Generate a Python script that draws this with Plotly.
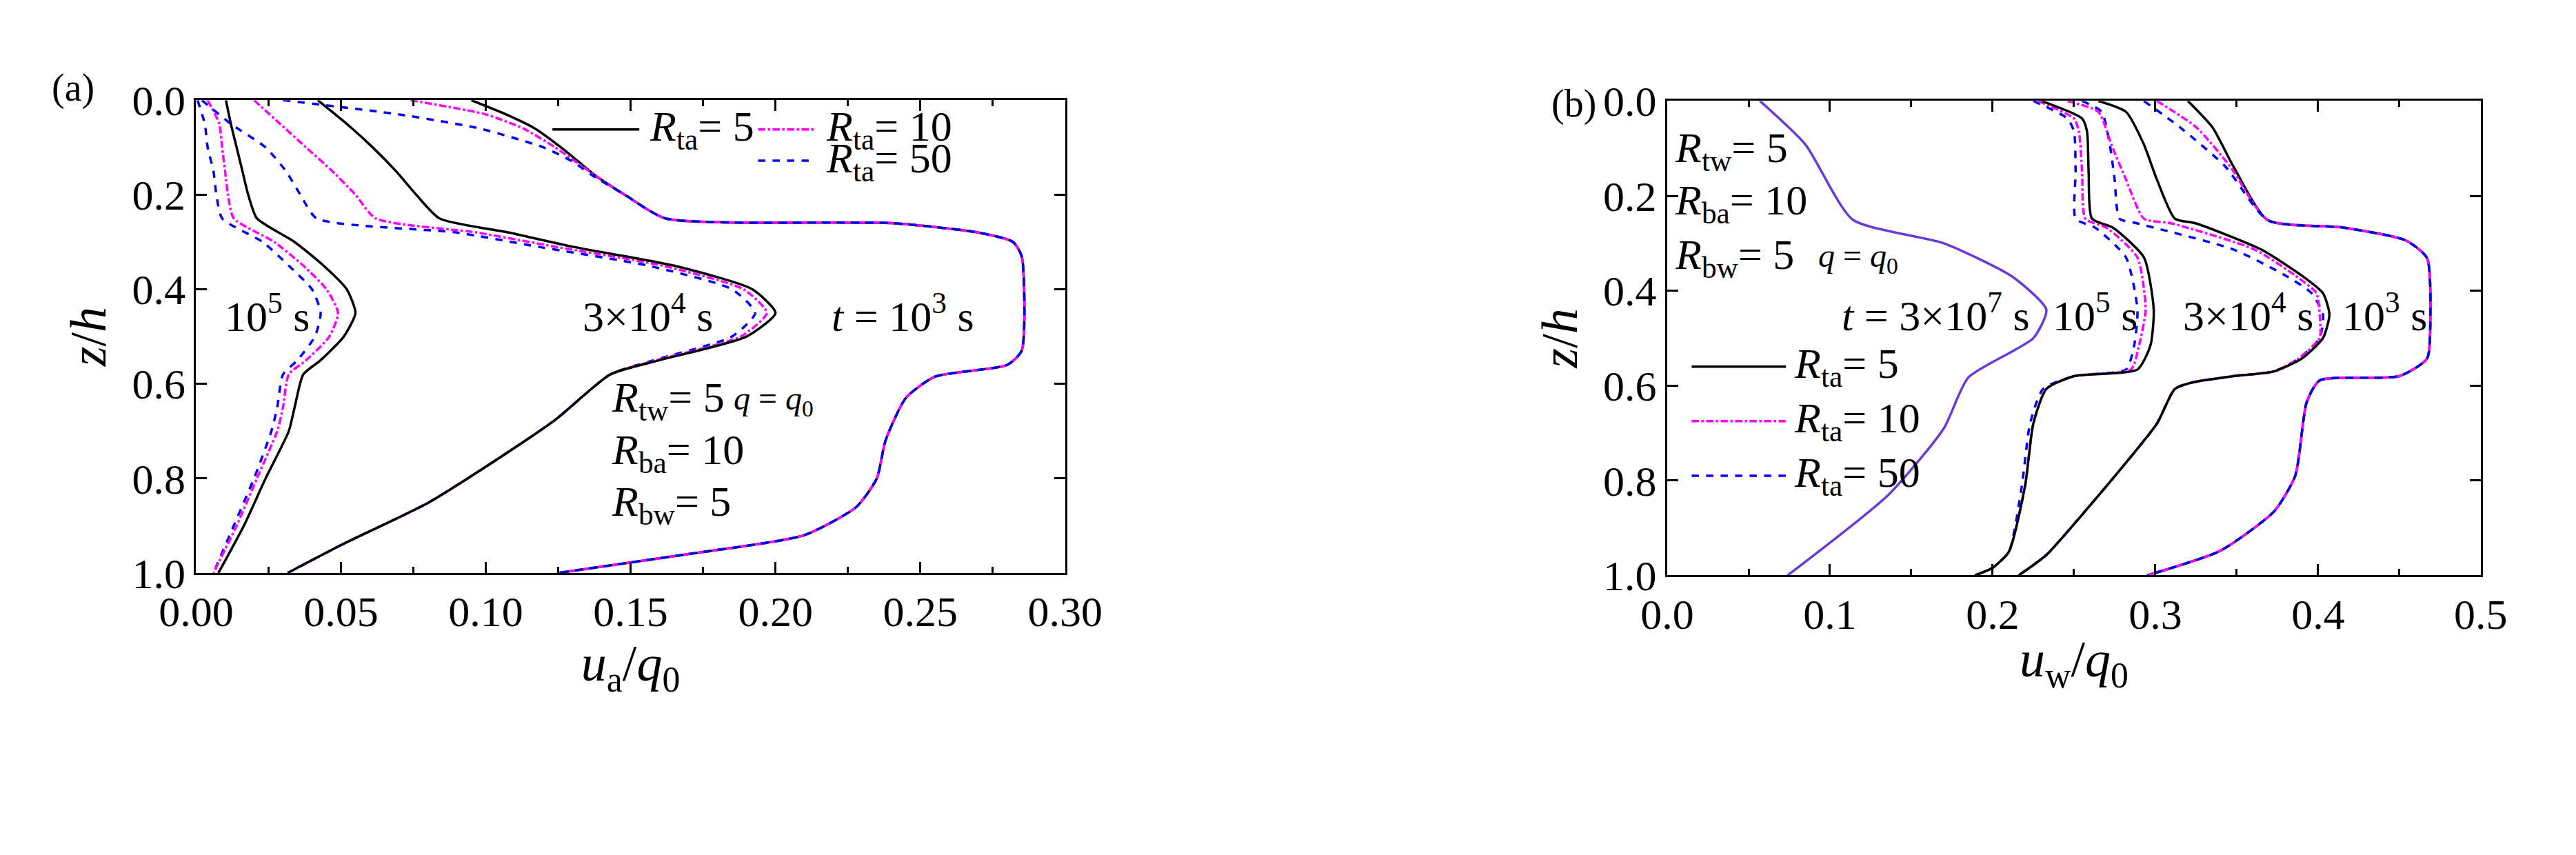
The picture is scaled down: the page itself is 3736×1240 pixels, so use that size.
import plotly.graph_objects as go

# ---------- panel (a): u_a/q0 vs z/h ----------
Z_A = [0.0, 0.05, 0.10, 0.15, 0.20, 0.25, 0.30, 0.35, 0.40, 0.45, 0.50, 0.55, 0.58, 0.65, 0.70, 0.80, 0.90, 1.0]
# t = 1e5 s
A5_R5  = [0.0103, 0.012, 0.014, 0.016, 0.018, 0.021, 0.034, 0.044, 0.052, 0.055, 0.051, 0.043, 0.037, 0.034, 0.032, 0.024, 0.0165, 0.0077]
A5_R10 = [0.004, 0.008, 0.009, 0.010, 0.011, 0.013, 0.027, 0.037, 0.045, 0.049, 0.046, 0.038, 0.032, 0.030, 0.028, 0.021, 0.014, 0.006]
A5_R50 = [0.0005, 0.003, 0.004, 0.006, 0.007, 0.009, 0.023, 0.032, 0.040, 0.043, 0.041, 0.035, 0.030, 0.028, 0.026, 0.020, 0.013, 0.006]
# t = 3e4 s
Z_A34 = [0.0, 0.05, 0.10, 0.15, 0.20, 0.25, 0.28, 0.31, 0.35, 0.40, 0.45, 0.50, 0.55, 0.58, 0.676, 0.773, 0.852, 0.94, 1.0]
A34_R5  = [0.042, 0.052, 0.061, 0.069, 0.076, 0.084, 0.108, 0.130, 0.165, 0.192, 0.200, 0.190, 0.160, 0.143, 0.124, 0.1006, 0.080, 0.0504, 0.0316]
A34_R10 = [0.020, 0.029, 0.038, 0.047, 0.055, 0.062, 0.097, 0.124, 0.161, 0.189, 0.197, 0.188, 0.159, 0.143, 0.124, 0.1006, 0.080, 0.0504, 0.0316]
A34_R50 = [0.002, 0.012, 0.024, 0.031, 0.036, 0.0416, 0.090, 0.118, 0.156, 0.185, 0.193, 0.185, 0.158, 0.143, 0.124, 0.1006, 0.080, 0.0504, 0.0316]
# t = 1e3 s
Z_A3 = [0.0, 0.03, 0.06, 0.10, 0.13, 0.16, 0.20, 0.25, 0.26, 0.28, 0.30, 0.33, 0.53, 0.56, 0.585, 0.63, 0.72, 0.80, 0.86, 0.92, 0.96, 1.0]
A3_R5  = [0.095, 0.107, 0.117, 0.126, 0.132, 0.138, 0.148, 0.162, 0.240, 0.270, 0.282, 0.285, 0.285, 0.280, 0.255, 0.245, 0.238, 0.235, 0.228, 0.210, 0.170, 0.125]
A3_R10 = [0.074, 0.100, 0.113, 0.124, 0.131, 0.138, 0.148, 0.162, 0.240, 0.270, 0.282, 0.285, 0.285, 0.280, 0.255, 0.245, 0.238, 0.235, 0.228, 0.210, 0.170, 0.125]
A3_R50 = [0.030, 0.070, 0.098, 0.120, 0.130, 0.137, 0.148, 0.162, 0.240, 0.270, 0.282, 0.285, 0.285, 0.280, 0.255, 0.245, 0.238, 0.235, 0.228, 0.210, 0.170, 0.125]

# ---------- panel (b): u_w/q0 vs z/h ----------
Z_B7 = [0.0, 0.092, 0.25, 0.30, 0.37, 0.44, 0.50, 0.583, 0.69, 0.83, 1.0]
B7 = [0.057, 0.085, 0.114, 0.170, 0.212, 0.233, 0.225, 0.185, 0.170, 0.136, 0.074]

Z_B5 = [0.0, 0.037, 0.064, 0.15, 0.248, 0.267, 0.33, 0.44, 0.515, 0.566, 0.58, 0.607, 0.68, 0.81, 0.95, 0.984, 1.0]
B5_R5  = [0.230, 0.255, 0.258, 0.259, 0.261, 0.274, 0.293, 0.299, 0.297, 0.289, 0.250, 0.233, 0.225, 0.220, 0.210, 0.200, 0.189]
B5_R10 = [0.228, 0.250, 0.253, 0.255, 0.257, 0.270, 0.289, 0.294, 0.290, 0.285, 0.250, 0.233, 0.225, 0.220, 0.210, 0.200, 0.189]
B5_R50 = [0.225, 0.246, 0.250, 0.251, 0.251, 0.263, 0.282, 0.289, 0.287, 0.282, 0.250, 0.231, 0.223, 0.218, 0.210, 0.200, 0.189]

Z_B34 = [0.0, 0.023, 0.092, 0.166, 0.248, 0.258, 0.313, 0.368, 0.405, 0.45, 0.50, 0.543, 0.57, 0.58, 0.593, 0.607, 0.68, 0.754, 0.856, 0.957, 1.0]
B34_R5  = [0.265, 0.282, 0.293, 0.301, 0.312, 0.325, 0.365, 0.390, 0.403, 0.407, 0.403, 0.390, 0.373, 0.348, 0.323, 0.312, 0.301, 0.284, 0.259, 0.233, 0.216]
B34_R10 = [0.246, 0.265, 0.273, 0.282, 0.293, 0.310, 0.361, 0.386, 0.399, 0.401, 0.401, 0.388, 0.373, 0.348, 0.323, 0.312, 0.301, 0.284, 0.259, 0.233, 0.216]
B34_R50 = [0.255, 0.267, 0.272, 0.275, 0.278, 0.289, 0.348, 0.380, 0.396, 0.403, 0.401, 0.388, 0.373, 0.348, 0.323, 0.312, 0.301, 0.284, 0.259, 0.233, 0.216]

Z_B3 = [0.0, 0.055, 0.138, 0.251, 0.267, 0.294, 0.331, 0.46, 0.543, 0.58, 0.589, 0.635, 0.79, 0.865, 0.948, 1.0]
B3_R5  = [0.320, 0.335, 0.348, 0.369, 0.416, 0.454, 0.467, 0.469, 0.467, 0.450, 0.401, 0.393, 0.386, 0.373, 0.340, 0.295]
B3_R10 = [0.301, 0.325, 0.346, 0.369, 0.416, 0.454, 0.467, 0.469, 0.467, 0.450, 0.401, 0.393, 0.386, 0.373, 0.340, 0.295]
B3_R50 = [0.293, 0.315, 0.343, 0.369, 0.416, 0.454, 0.467, 0.469, 0.467, 0.450, 0.401, 0.393, 0.386, 0.373, 0.340, 0.295]

FONT = "Liberation Serif"
STY = {5: dict(color="black", dash="solid"),
       10: dict(color="#ff00ff", dash="dashdot"),
       50: dict(color="#0000ff", dash="dash")}

fig = go.Figure()

def add(x, z, r, ax="x", ay="y", color=None):
    st = dict(STY[r]) if r else dict(color=color, dash="solid")
    fig.add_trace(go.Scatter(x=x, y=z, mode="lines", xaxis=ax, yaxis=ay, showlegend=False,
                             line=dict(width=3.5, shape="spline", smoothing=0.6, **st)))

for xs, r in [(A5_R50, 50), (A5_R10, 10), (A5_R5, 5)]:
    add(xs, Z_A, r)
for xs, r in [(A34_R50, 50), (A34_R10, 10), (A34_R5, 5)]:
    add(xs, Z_A34, r)
for xs, r in [(A3_R5, 5), (A3_R10, 10), (A3_R50, 50)]:
    add(xs, Z_A3, r)

add(B7, Z_B7, None, "x2", "y2", color="#6a3ad6")
for xs, r in [(B5_R50, 50), (B5_R10, 10), (B5_R5, 5)]:
    add(xs, Z_B5, r, "x2", "y2")
for xs, r in [(B34_R50, 50), (B34_R10, 10), (B34_R5, 5)]:
    add(xs, Z_B34, r, "x2", "y2")
for xs, r in [(B3_R5, 5), (B3_R10, 10), (B3_R50, 50)]:
    add(xs, Z_B3, r, "x2", "y2")

ax_common = dict(showline=True, linecolor="black", linewidth=3, mirror="ticks", ticks="inside",
                 ticklen=16, tickwidth=3, tickcolor="black", showgrid=False, zeroline=False,
                 tickfont=dict(family=FONT, size=62, color="black"))
tit = dict(family=FONT, size=74, color="black")
minor = dict(ticks="inside", ticklen=9, tickwidth=3, tickcolor="black")

fig.update_layout(
    width=3736, height=1240, plot_bgcolor="white", paper_bgcolor="white",
    margin=dict(l=0, r=0, t=0, b=0), font=dict(family=FONT, color="black"),
    xaxis=dict(domain=[0.0613, 0.4087], range=[0, 0.30], dtick=0.05, tickformat=".2f",
               minor=dict(dtick=0.025, **minor),
               title=dict(text="<i>u</i><sub>a</sub>/<i>q</i><sub>0</sub>", font=tit, standoff=6),
               **ax_common),
    yaxis=dict(domain=[0.326, 0.911], range=[1, 0], dtick=0.2, tickformat=".1f",
               title=dict(text="<i>z</i>/<i>h</i>", font=tit, standoff=14),
               **ax_common),
    xaxis2=dict(domain=[0.6494, 0.9746], range=[0, 0.5], dtick=0.1, tickformat=".1f", anchor="y2",
                minor=dict(dtick=0.05, **minor),
                title=dict(text="<i>u</i><sub>w</sub>/<i>q</i><sub>0</sub>", font=tit, standoff=6),
                **ax_common),
    yaxis2=dict(domain=[0.323, 0.91], range=[1, 0], dtick=0.2, tickformat=".1f", anchor="x2",
                title=dict(text="<i>z</i>/<i>h</i>", font=tit, standoff=14),
                **ax_common),
)

ann = []
def txt(x, y, t, xr="x", yr="y", size=62, anchor="center"):
    ann.append(dict(x=x, y=y, xref=xr, yref=yr, text=t, showarrow=False, xanchor=anchor,
                    font=dict(family=FONT, size=size, color="black")))

R = lambda s: "<i>R</i><sub>%s</sub>" % s
# legend (a)
leg_a = [(0.123, 0.153, 0.062, 5), (0.194, 0.214, 0.062, 10), (0.194, 0.214, 0.128, 50)]
for x0, x1, y, r in leg_a:
    fig.add_shape(type="line", x0=x0, x1=x1, y0=y, y1=y, xref="x", yref="y",
                  line=dict(width=3.5, color=STY[r]["color"], dash=STY[r]["dash"]))
    txt(x1 + 0.003, y, R("ta") + "= %d" % r, anchor="left")
# legend (b)
for y, r in [(0.56, 5), (0.675, 10), (0.79, 50)]:
    fig.add_shape(type="line", x0=0.015, x1=0.073, y0=y, y1=y, xref="x2", yref="y2",
                  line=dict(width=3.5, color=STY[r]["color"], dash=STY[r]["dash"]))
    txt(0.077, y, R("ta") + "= %d" % r, "x2", "y2", anchor="left")

txt(0.0245, 0.45, "10<sup>5</sup> s")
txt(0.156, 0.45, "3×10<sup>4</sup> s")
txt(0.244, 0.45, "<i>t</i> = 10<sup>3</sup> s")
txt(0.143, 0.635, R("tw") + "= 5", anchor="left")
txt(0.185, 0.635, "<i>q</i> = <i>q</i><sub>0</sub>", size=48, anchor="left")
txt(0.143, 0.745, R("ba") + "= 10", anchor="left")
txt(0.143, 0.855, R("bw") + "= 5", anchor="left")

txt(0.004, 0.105, R("tw") + "= 5", "x2", "y2", anchor="left")
txt(0.004, 0.215, R("ba") + "= 10", "x2", "y2", anchor="left")
txt(0.004, 0.33, R("bw") + "= 5", "x2", "y2", anchor="left")
txt(0.092, 0.33, "<i>q</i> = <i>q</i><sub>0</sub>", "x2", "y2", size=48, anchor="left")
txt(0.165, 0.445, "<i>t</i> = 3×10<sup>7</sup> s", "x2", "y2")
txt(0.263, 0.445, "10<sup>5</sup> s", "x2", "y2")
txt(0.357, 0.445, "3×10<sup>4</sup> s", "x2", "y2")
txt(0.441, 0.445, "10<sup>3</sup> s", "x2", "y2")

txt(0.012, 0.955, "(a)", "paper", "paper", size=56)
txt(0.612, 0.935, "(b)", "paper", "paper", size=56)
fig.update_layout(annotations=ann)

fig.write_html("out.html")
